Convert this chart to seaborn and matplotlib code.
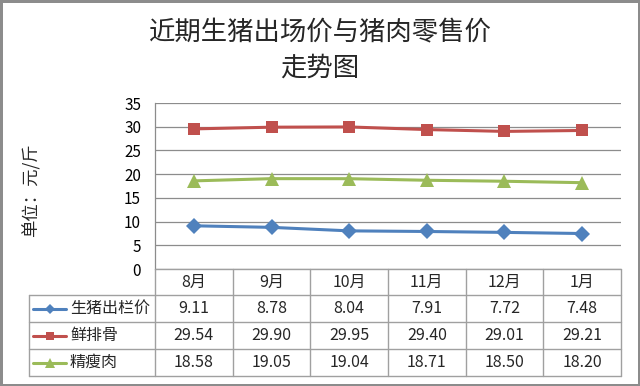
import matplotlib
matplotlib.use("Agg")
import matplotlib.pyplot as plt
import seaborn as sns
import pandas as pd
import numpy as np

months = ["8月", "9月", "10月", "11月", "12月", "1月"]
series_names = ["生猪出栏价", "鲜排骨", "精瘦肉"]
live_pig = [9.11, 8.78, 8.04, 7.91, 7.72, 7.48]
ribs = [29.54, 29.90, 29.95, 29.40, 29.01, 29.21]
lean = [18.58, 19.05, 19.04, 18.71, 18.50, 18.20]
y_ticks = [0, 5, 10, 15, 20, 25, 30, 35]
title = "近期生猪出场价与猪肉零售价\n走势图"
y_label = "单位：元/斤"

colors = ["#4F81BD", "#C0504D", "#9BBB59"]
markers = ["D", "s", "^"]
msizes = [8, 9, 10]

sns.set_theme(style="white")
plt.rcParams["font.family"] = ["Noto Sans CJK SC", "DejaVu Sans"]

W, H = 640, 386
fig = plt.figure(figsize=(W / 100, H / 100), dpi=100)
fig.patch.set_facecolor("white")
fig.patch.set_edgecolor("#8c8c8c")
fig.patch.set_linewidth(2.5)

def px_rect(x0, y0, x1, y1):
    return [x0 / W, 1 - y1 / H, (x1 - x0) / W, (y1 - y0) / H]

# main plot
pl, pr, pt, pb = 155, 621, 103, 269
ax = fig.add_axes(px_rect(pl, pt, pr, pb))
data = pd.DataFrame({
    "x": list(range(len(months))) * 3,
    "value": live_pig + ribs + lean,
    "series": sum([[n] * len(months) for n in series_names], []),
})
sns.lineplot(data=data, x="x", y="value", hue="series", style="series",
             palette=dict(zip(series_names, colors)),
             markers=dict(zip(series_names, markers)), dashes=False,
             linewidth=2.2, markersize=9, markeredgewidth=0, ax=ax, legend=False)
for line, ms in zip(ax.lines, msizes):
    line.set_markersize(ms)
ax.set_xlim(-0.5, len(months) - 0.5)
ax.set_ylim(0, 35)
ax.set_yticks(y_ticks)
ax.set_yticklabels([str(t) for t in y_ticks], fontsize=11)
ax.set_xticks([])
ax.set_xlabel("")
ax.set_ylabel("")
ax.yaxis.grid(True, color="#8c8c8c", linewidth=0.9)
ax.set_axisbelow(True)
for s in ["top", "right", "bottom"]:
    ax.spines[s].set_visible(False)
ax.spines["left"].set_color("#8c8c8c")
ax.spines["left"].set_linewidth(0.9)
ax.tick_params(axis="y", length=0, pad=10, colors="black")

# title and y label
fig.text(320 / W, 1 - 50 / H, title, ha="center", va="center", fontsize=19,
         linespacing=1.45)
fig.text(31 / W, 1 - 190 / H, y_label, ha="center", va="center", rotation=90,
         fontsize=12.5)

# data table
tl, tr, tt, tb = 29, 621, 269, 376
tax = fig.add_axes(px_rect(tl, tt, tr, tb))
colw = (pr - pl) / len(months)
legw = (pl - tl) / colw
tax.set_xlim(-0.5 - legw, len(months) - 0.5)
tax.set_ylim(4, 0)
tax.axis("off")
rows_y = [0, 26 / 107 * 4]
row_h = (4 - rows_y[1]) / 3
for i in range(1, 4):
    rows_y.append(rows_y[1] + i * row_h)
gc = "#a0a0a0"
# horizontal lines
tax.plot([-0.5, len(months) - 0.5], [rows_y[0]] * 2, color=gc, lw=1, clip_on=False)
for yv in rows_y[1:]:
    tax.plot([-0.5 - legw, len(months) - 0.5], [yv] * 2, color=gc, lw=1, clip_on=False)
# vertical lines
for k in range(len(months) + 1):
    tax.plot([k - 0.5] * 2, [rows_y[0], rows_y[-1]], color=gc, lw=1, clip_on=False)
tax.plot([-0.5 - legw] * 2, [rows_y[1], rows_y[-1]], color=gc, lw=1, clip_on=False)
# header
hy = (rows_y[0] + rows_y[1]) / 2
for k, m in enumerate(months):
    tax.text(k, hy, m, ha="center", va="center", fontsize=11.5)
# rows
for r, (name, vals, c, mk, ms) in enumerate(zip(series_names, [live_pig, ribs, lean],
                                                 colors, markers, msizes)):
    cy = (rows_y[r + 1] + rows_y[r + 2]) / 2
    for k, v in enumerate(vals):
        tax.text(k, cy, f"{v:.2f}", ha="center", va="center", fontsize=11.5)
    x0 = -0.5 - legw + 4 / colw
    tax.plot([x0, x0 + 33 / colw], [cy, cy], color=c, lw=2.2, clip_on=False)
    tax.plot([x0 + 16.5 / colw], [cy], marker=mk, color=c, markersize=ms * 0.7,
             markeredgewidth=0, clip_on=False)
    tax.text(x0 + 37 / colw, cy, name, ha="left", va="center", fontsize=11.5)

fig.savefig("out.png", dpi=100, facecolor=fig.get_facecolor(),
            edgecolor=fig.get_edgecolor())
